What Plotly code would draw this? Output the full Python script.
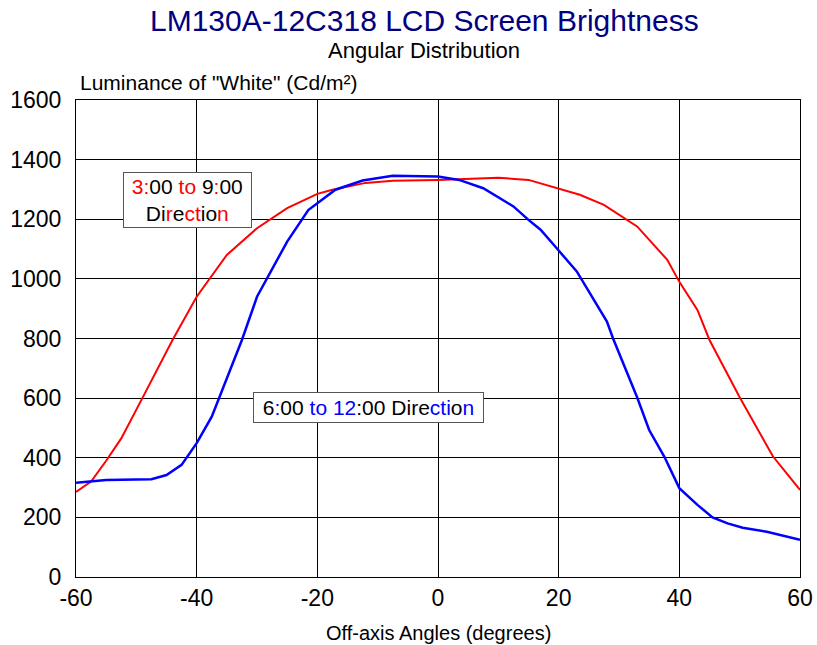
import plotly.graph_objects as go

# 3:00 to 9:00 direction (red)
angles_h = [-60, -57.5, -55, -52.5, -49, -44, -40, -35, -30, -25, -20, -17.5, -12, -7.5,
            0, 5, 10, 15, 20, 23.5, 27.5, 31, 33, 38, 40, 43, 45, 50, 55.5, 60]
lum_h = [285, 320, 390, 465, 600, 795, 940, 1080, 1170, 1237, 1285, 1299, 1322, 1329,
         1332, 1336, 1339, 1332, 1304, 1282, 1248, 1204, 1176, 1064, 990, 896, 795, 603, 405, 292]

# 6:00 to 12:00 direction (blue)
angles_v = [-60, -57.5, -55, -47.5, -45, -42.5, -40, -37.5, -32.5, -30, -27.5, -25, -21.5,
            -17, -12.5, -7.5, 0, 3.5, 7.5, 12.5, 15, 17, 20, 23, 28, 29, 33, 35, 37.5, 40,
            43, 45.5, 48, 50.5, 54.5, 58, 60]
lum_v = [316, 320, 325, 328, 342, 376, 449, 538, 795, 940, 1030, 1125, 1231,
         1299, 1330, 1346, 1343, 1332, 1304, 1243, 1198, 1165, 1095, 1025, 857, 801, 603, 493, 404, 298,
         242, 200, 180, 165, 152, 135, 125]

x_ticks = [-60, -40, -20, 0, 20, 40, 60]
y_ticks = [0, 200, 400, 600, 800, 1000, 1200, 1400, 1600]

FONT = "Liberation Sans, Arial, sans-serif"
R = "#ff0000"
B = "#0000ff"
SP = "&nbsp;"

def c(txt, col):
    return f"<span style='color:{col}'>{txt}</span>"

fig = go.Figure()
fig.add_trace(go.Scatter(x=angles_h, y=lum_h, mode="lines",
                         line=dict(color=R, width=2), showlegend=False))
fig.add_trace(go.Scatter(x=angles_v, y=lum_v, mode="lines",
                         line=dict(color=B, width=2.5), showlegend=False))

label_h = (SP + c("3:", R) + "00 " + c("to", R) + " 9" + c(":", R) + "00" + SP + "<br>"
           + "Di" + c("r", R) + "e" + c("ct", R) + "io" + c("n", R))
label_v = (SP + "6" + c(":", B) + "00 " + c("to 12", B) + ":00 Dire" + c("cti", B)
           + "o" + c("n", B) + SP)

fig.add_annotation(x=-41.6, y=1265, xref="x", yref="y", text=label_h, showarrow=False,
                   font=dict(family=FONT, size=21, color="black"),
                   bgcolor="white", bordercolor="#555555", borderwidth=1, borderpad=2)
fig.add_annotation(x=-11.6, y=567, xref="x", yref="y", text=label_v, showarrow=False,
                   font=dict(family=FONT, size=21, color="black"),
                   bgcolor="white", bordercolor="#555555", borderwidth=1, borderpad=3)

fig.add_annotation(x=0.4807, y=1.166, xref="paper", yref="paper", showarrow=False,
                   text="LM130A-12C318 LCD Screen Brightness",
                   font=dict(family=FONT, size=30, color="#000080"),
                   xanchor="center", yanchor="middle")
fig.add_annotation(x=0.4807, y=1.103, xref="paper", yref="paper", showarrow=False,
                   text="Angular Distribution",
                   font=dict(family=FONT, size=22, color="black"),
                   xanchor="center", yanchor="middle")
fig.add_annotation(x=0.003, y=1.0377, xref="paper", yref="paper", showarrow=False,
                   text="Luminance of \"White\" (Cd/m²)",
                   font=dict(family=FONT, size=21, color="black"),
                   xanchor="left", yanchor="middle")
fig.add_annotation(x=0.5, y=-0.117, xref="paper", yref="paper", showarrow=False,
                   text="Off-axis Angles (degrees)",
                   font=dict(family=FONT, size=20, color="black"),
                   xanchor="center", yanchor="middle")

fig.update_xaxes(range=[-60, 60], tickvals=x_ticks, ticktext=[str(v) for v in x_ticks],
                 showgrid=True, gridcolor="black", gridwidth=1, zeroline=False,
                 showline=True, linecolor="black", linewidth=1, mirror=True, automargin=False,
                 ticks="", tickfont=dict(family=FONT, size=23, color="black"))
fig.update_yaxes(range=[0, 1600], tickvals=y_ticks, ticktext=[str(v) for v in y_ticks],
                 showgrid=True, gridcolor="black", gridwidth=1, zeroline=False,
                 showline=True, linecolor="black", linewidth=1, mirror=True, automargin=False,
                 ticks="", ticklabelstandoff=9,
                 tickfont=dict(family=FONT, size=23, color="black"))

fig.update_layout(width=817, height=645, margin=dict(l=76, r=17, t=100, b=68),
                  plot_bgcolor="white", paper_bgcolor="white")

fig.write_html("out.html", config={"displayModeBar": False},
               post_script="document.body.style.margin='0';")
